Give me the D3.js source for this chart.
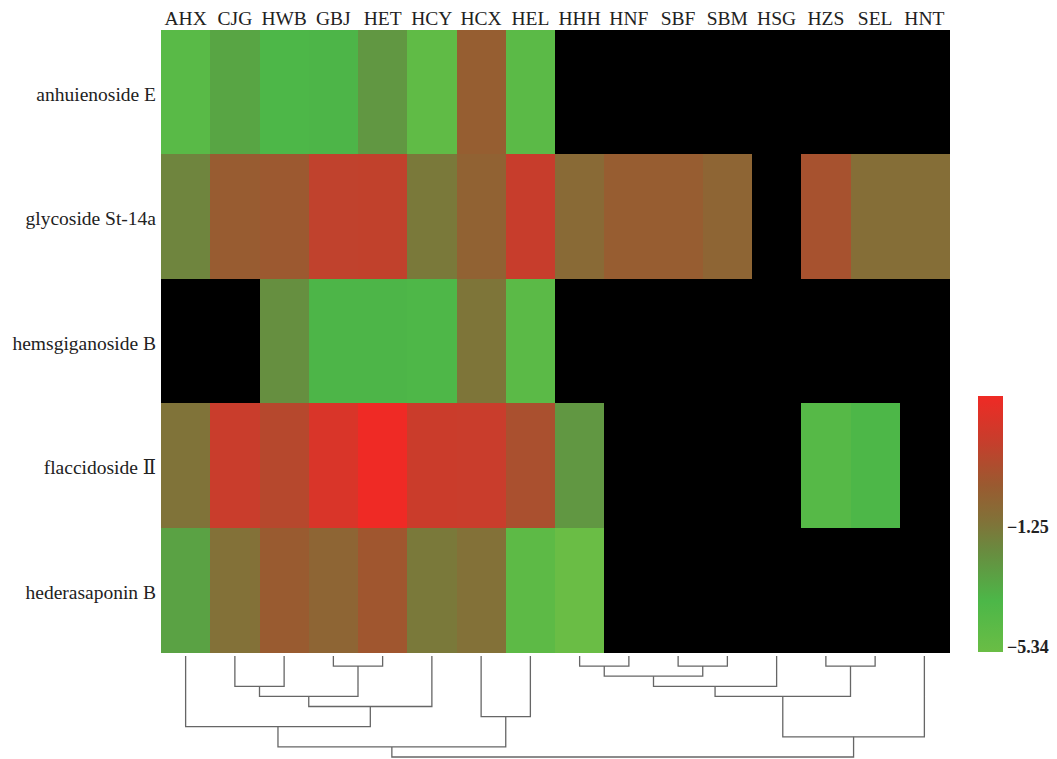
<!DOCTYPE html>
<html>
<head>
<meta charset="utf-8">
<script src="https://cdn.jsdelivr.net/npm/d3@7"></script>
<style>
  body { margin: 0; background: #fff; }
  text { font-family: "Liberation Serif", "Times New Roman", "DejaVu Serif", serif; fill: #222; }
</style>
</head>
<body>
<svg width="1057" height="759"></svg>
<script>
// samples (columns) and compounds (rows)
var samples = ["AHX","CJG","HWB","GBJ","HET","HCY","HCX","HEL","HHH","HNF","SBF","SBM","HSG","HZS","SEL","HNT"];
var compounds = ["anhuienoside E","glycoside St-14a","hemsgiganoside B","flaccidoside \u2161","hederasaponin B"];

// log values, null = not detected (black)
var anhuienosideE   = [-4.4,-3.0,-3.7,-3.6,-2.5,-4.8,-0.1,-4.5,null,null,null,null,null,null,null,null];
var glycosideSt14a  = [-1.8, 0.0, 0.15, 1.3, 1.35,-1.35,-0.3, 1.55,-0.7,-0.05,-0.05,-0.45,null,0.5,-0.9,-0.9];
var hemsgiganosideB = [null,null,-2.2,-3.6,-3.6,-3.8,-1.2,-4.5,null,null,null,null,null,null,null,null];
var flaccidosideII  = [-1.1, 1.6, 1.0, 2.2, 3.0, 1.65, 1.6, 0.6,-2.5,null,null,null,null,-4.2,-3.7,null];
var hederasaponinB  = [-2.9,-1.0, 0.05,-0.45, 0.3,-1.35,-1.0,-4.6,-5.34,null,null,null,null,null,null,null];
var rows = [anhuienosideE, glycosideSt14a, hemsgiganosideB, flaccidosideII, hederasaponinB];

// colour legend
var legendTicks = [-1.25, -5.34];
var colorStops = [-5.34, -3.67, -2.0, -1.17, 0.1, 1.5, 3.0];
var colorRange = ["#6abd45", "#4cb748", "#6a8a3f", "#7f7439", "#9a5a30", "#c63e2c", "#ef2a25"];

// column clustering (merge heights in arbitrary steps)
var tree = {h: 10, children: [
  {h: 9, children: [
    {h: 7, children: [
      {name: "AHX"},
      {h: 5, children: [
        {h: 4, children: [
          {h: 3, children: [{name: "CJG"}, {name: "HWB"}]},
          {h: 1, children: [{name: "GBJ"}, {name: "HET"}]}
        ]},
        {name: "HCY"}
      ]}
    ]},
    {h: 6, children: [{name: "HCX"}, {name: "HEL"}]}
  ]},
  {h: 8, children: [
    {h: 4, children: [
      {h: 3, children: [
        {h: 2, children: [
          {h: 1, children: [{name: "HHH"}, {name: "HNF"}]},
          {h: 1, children: [{name: "SBF"}, {name: "SBM"}]}
        ]},
        {name: "HSG"}
      ]},
      {h: 1, children: [{name: "HZS"}, {name: "SEL"}]}
    ]},
    {name: "HNT"}
  ]}
]};

var svg = d3.select("svg");
var hm = {left: 161, right: 949, top: 30, bottom: 652};

var x = d3.scaleBand().domain(samples).range([hm.left, hm.right]);
var y = d3.scaleBand().domain(compounds).range([hm.top, hm.bottom]);
var color = d3.scaleLinear().domain(colorStops).range(colorRange).clamp(true);

var cells = [];
rows.forEach(function(r, i) {
  r.forEach(function(v, j) {
    cells.push({row: compounds[i], col: samples[j], value: v});
  });
});

svg.append("g")
  .attr("shape-rendering", "crispEdges")
  .selectAll("rect")
  .data(cells)
  .enter().append("rect")
  .attr("x", function(d) { return Math.round(x(d.col)); })
  .attr("y", function(d) { return Math.round(y(d.row)); })
  .attr("width", function(d) { return Math.round(x(d.col) + x.bandwidth()) - Math.round(x(d.col)) + 1; })
  .attr("height", function(d) { return Math.round(y(d.row) + y.bandwidth()) - Math.round(y(d.row)) + 1; })
  .attr("fill", function(d) { return d.value === null ? "#000" : color(d.value); });

// column labels
svg.append("g").selectAll("text")
  .data(samples)
  .enter().append("text")
  .attr("x", function(d) { return x(d) + x.bandwidth() / 2; })
  .attr("y", 25)
  .attr("text-anchor", "middle")
  .style("font-size", "19.5px")
  .text(function(d) { return d; });

// row labels
svg.append("g").selectAll("text")
  .data(compounds)
  .enter().append("text")
  .attr("x", 156)
  .attr("y", function(d) { return y(d) + y.bandwidth() / 2; })
  .attr("dy", "0.45em")
  .attr("text-anchor", "end")
  .style("font-size", "19.5px")
  .text(function(d) { return d; });

// colour bar
var cb = {x: 978, w: 25, top: 396, bottom: 652};
var cy = d3.scaleLinear().domain([-5.34, 3.0]).range([cb.bottom, cb.top]);
var grad = svg.append("defs").append("linearGradient")
  .attr("id", "cbar").attr("x1", 0).attr("y1", 1).attr("x2", 0).attr("y2", 0);
grad.selectAll("stop")
  .data(colorStops)
  .enter().append("stop")
  .attr("offset", function(d) { return (d - colorStops[0]) / (colorStops[colorStops.length - 1] - colorStops[0]); })
  .attr("stop-color", function(d, i) { return colorRange[i]; });
svg.append("rect")
  .attr("x", cb.x).attr("y", cb.top)
  .attr("width", cb.w).attr("height", cb.bottom - cb.top)
  .attr("fill", "url(#cbar)");

svg.append("g").selectAll("text")
  .data(legendTicks)
  .enter().append("text")
  .attr("x", cb.x + cb.w + 4)
  .attr("y", function(d) { return Math.min(cy(d), cb.bottom - 5); })
  .attr("dy", "0.35em")
  .style("font-size", "18px")
  .style("font-weight", "bold")
  .text(function(d) { return d3.format(".2f")(d).replace("-", "\u2013"); });

// dendrogram
var root = d3.hierarchy(tree);
var dy = d3.scaleLinear().domain([0, 10]).range([656, 757]);
root.eachAfter(function(n) {
  if (!n.children) {
    n.px = x(n.data.name) + x.bandwidth() / 2;
    n.py = dy(0);
  } else {
    n.px = d3.mean(n.children, function(c) { return c.px; });
    n.py = dy(n.data.h);
  }
});

svg.append("g")
  .attr("fill", "none")
  .attr("stroke", "#666")
  .attr("stroke-width", 1.3)
  .selectAll("path")
  .data(root.descendants().filter(function(n) { return n.children; }))
  .enter().append("path")
  .attr("d", function(n) {
    var a = n.children[0], b = n.children[1];
    return "M" + a.px + "," + a.py + "V" + n.py + "H" + b.px + "V" + b.py;
  });
</script>
</body>
</html>
